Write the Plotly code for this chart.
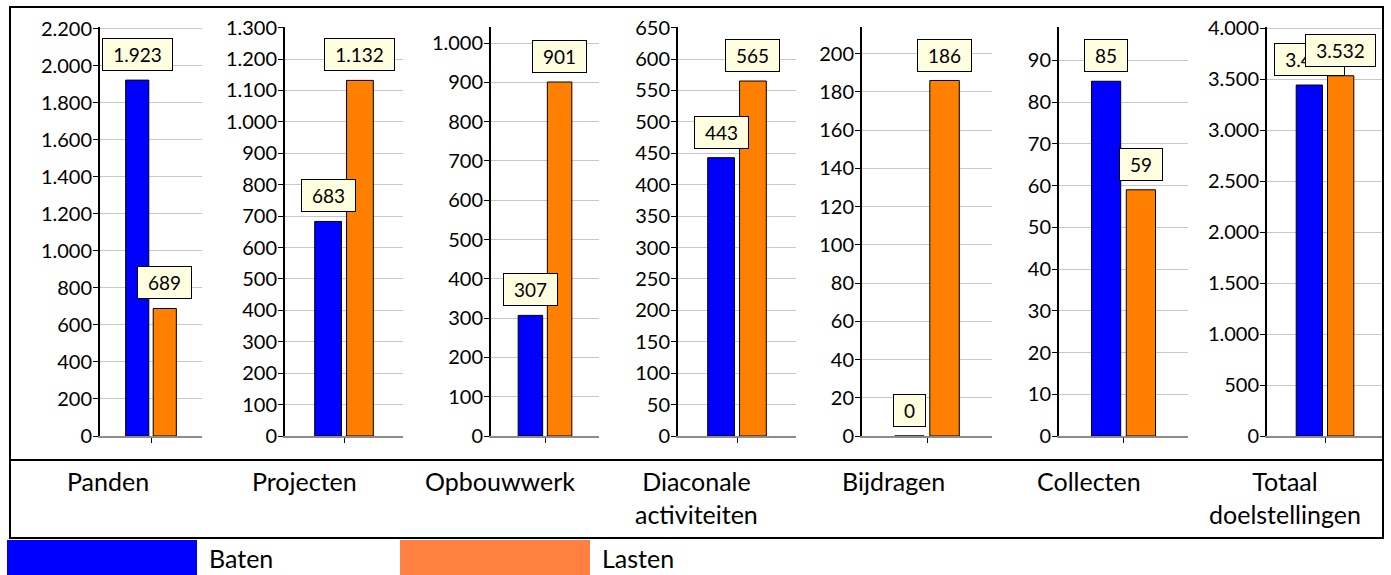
import plotly.graph_objects as go

# ---------------- data ----------------
categories = ["Panden", "Projecten", "Opbouwwerk", "Diaconale<br>activiteiten",
              "Bijdragen", "Collecten", "Totaal<br>doelstellingen"]
baten = [1923, 683, 307, 443, 0, 85, 3441]
lasten = [689, 1132, 901, 565, 186, 59, 3532]
y_max = [2210, 1302, 1041, 651, 214, 98, 4010]
y_dtick = [200, 100, 100, 50, 20, 10, 500]
series_names = ["Baten", "Lasten"]

# ---------------- styling / geometry ----------------
W, H = 1391, 575
FONT = "Lato, Carlito, Calibri, sans-serif"
BAR_COLORS = ["#0000FF", "#FF8000"]
LEGEND_COLORS = ["#0000FF", "#FF8040"]
axis_left_px = [100, 285, 491, 678, 862, 1059, 1267]
plot_right_px = [202, 403, 599, 796, 992, 1188, 1383]
col_edges_px = [10, 206, 402, 598, 795, 991, 1187, 1383]
plot_top_px, plot_bottom_px = 27, 436
BARGAP, BARGROUPGAP = 0.46, 0.16
LABEL_SIZE = 19


def px_x(p):
    return p / W


def px_y(p):
    return 1 - p / H


def fmt(v):
    return f"{v:,}".replace(",", ".")


fig = go.Figure()
annotations = []
layout_axes = {}

for i, cat in enumerate(categories):
    n = i + 1
    xa = "x" if n == 1 else f"x{n}"
    ya = "y" if n == 1 else f"y{n}"
    key = f"c{n}"
    for s, (name, vals) in enumerate(zip(series_names, [baten, lasten])):
        fig.add_trace(go.Bar(
            x=[key], y=[vals[i]], name=name, showlegend=False,
            marker=dict(color=BAR_COLORS[s], line=dict(color="black", width=1)),
            xaxis=xa, yaxis=ya, hoverinfo="name+y",
        ))

    dom_w = plot_right_px[i] - axis_left_px[i]
    offset = (1 - BARGAP) * dom_w / 4
    for s, vals in enumerate([baten, lasten]):
        txt = fmt(vals[i])
        n_dig = sum(ch.isdigit() for ch in txt)
        n_dot = txt.count(".")
        tw = LABEL_SIZE * (0.58 * n_dig + 0.26 * n_dot)
        annotations.append(dict(
            xref=xa, yref=ya, x=key, y=vals[i], text=txt,
            xshift=(-offset if s == 0 else offset), yshift=9,
            xanchor="center", yanchor="bottom", showarrow=False,
            font=dict(family=FONT, size=LABEL_SIZE, color="black"),
            bgcolor="#FFFFE0", bordercolor="black", borderwidth=1,
            borderpad=4, width=tw + 12, align="center",
        ))

    layout_axes["xaxis" if n == 1 else f"xaxis{n}"] = dict(
        domain=[px_x(axis_left_px[i]), px_x(plot_right_px[i])],
        anchor=ya, showgrid=False, zeroline=False, automargin=False,
        showline=True, linecolor="#8c8c8c", linewidth=2,
        ticks="outside", ticklen=5, tickcolor="black", tickwidth=1,
        showticklabels=False, fixedrange=True,
    )
    layout_axes["yaxis" if n == 1 else f"yaxis{n}"] = dict(
        domain=[px_y(plot_bottom_px), px_y(plot_top_px)],
        anchor=xa, range=[0, y_max[i]], tick0=0, dtick=y_dtick[i],
        showgrid=True, gridcolor="#c8c8c8", gridwidth=1, zeroline=False,
        automargin=False,
        showline=True, linecolor="black", linewidth=2,
        ticks="outside", ticklen=5, tickcolor="black", tickwidth=1,
        tickfont=dict(family=FONT, size=20, color="black"),
        ticklabelstandoff=-3,
        separatethousands=True, fixedrange=True,
    )

# category labels
for i, cat in enumerate(categories):
    cx = (col_edges_px[i] + col_edges_px[i + 1]) / 2
    annotations.append(dict(
        xref="paper", yref="paper", x=px_x(cx), y=px_y(464), text=cat,
        xanchor="center", yanchor="top", showarrow=False, align="center",
        font=dict(family=FONT, size=25, color="black"),
    ))

shapes = [
    dict(type="rect", xref="paper", yref="paper",
         x0=px_x(10), x1=px_x(1383), y0=px_y(538), y1=px_y(7),
         line=dict(color="black", width=2), fillcolor="rgba(0,0,0,0)"),
    dict(type="line", xref="paper", yref="paper",
         x0=px_x(10), x1=px_x(1383), y0=px_y(460), y1=px_y(460),
         line=dict(color="black", width=2)),
]

# custom legend
legend_x = [(7, 197, 207), (400, 590, 600)]
for s, name in enumerate(series_names):
    x0, x1, tx = legend_x[s]
    shapes.append(dict(type="rect", xref="paper", yref="paper",
                       x0=px_x(x0), x1=px_x(x1), y0=px_y(575), y1=px_y(540),
                       line=dict(width=0), fillcolor=LEGEND_COLORS[s]))
    annotations.append(dict(
        xref="paper", yref="paper", x=px_x(tx), y=px_y(558), text=name,
        xanchor="left", yanchor="middle", showarrow=False,
        font=dict(family=FONT, size=25, color="black"),
    ))

fig.update_layout(
    template="none",
    width=W, height=H,
    margin=dict(l=0, r=0, t=0, b=0, pad=0, autoexpand=False),
    paper_bgcolor="white", plot_bgcolor="white",
    barmode="group", bargap=BARGAP, bargroupgap=BARGROUPGAP,
    separators=",.", showlegend=False,
    annotations=annotations, shapes=shapes,
    font=dict(family=FONT, color="black"),
    **layout_axes,
)

fig.write_html(
    "out.html",
    post_script="document.body.style.margin='0';document.body.style.overflow='hidden';",
    config={"displayModeBar": False},
)
